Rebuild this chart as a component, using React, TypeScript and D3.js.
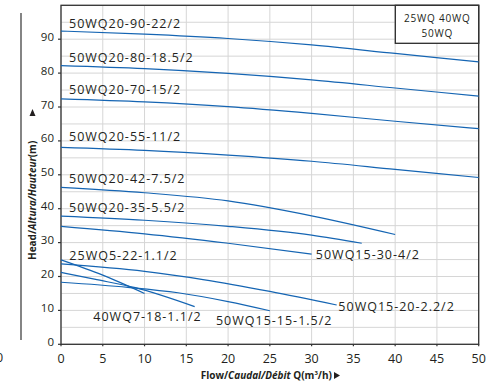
import React from "react";
import * as d3 from "d3";

type Pt = [number, number];

// Pump curves: [flow m3/h, head m]
const c90: Pt[] = [[0, 92.4], [10, 91.5], [20, 90.2], [30, 88.3], [40, 85.8], [50, 83.3]];
const c80: Pt[] = [[0, 82.2], [10, 81.3], [20, 79.9], [30, 78.0], [40, 75.6], [50, 73.2]];
const c70: Pt[] = [[0, 72.4], [10, 71.5], [20, 70.1], [30, 68.1], [40, 65.8], [50, 63.6]];
const c55: Pt[] = [[0, 58.1], [10, 57.2], [20, 55.8], [30, 54.0], [40, 51.6], [50, 49.2]];
const c42: Pt[] = [[0, 46.3], [10, 44.7], [20, 42.3], [30, 37.9], [40, 32.4]];
const c35: Pt[] = [[0, 37.8], [10, 36.6], [20, 34.8], [30, 32.2], [36, 29.8]];
const c30: Pt[] = [[0, 34.8], [10, 32.6], [20, 29.8], [30, 26.6]];
const c20: Pt[] = [[0, 23.7], [10, 21.5], [17, 19.1], [25, 15.6], [33, 11.6]];
const c22: Pt[] = [[0, 24.9], [5, 20.4], [10, 15.0]];
const c18: Pt[] = [[0, 21.2], [4, 19.2], [8.9, 16.7], [16, 11.1]];
const c15: Pt[] = [[0, 18.3], [8, 16.8], [14, 15.2], [20, 12.6], [25, 9.9]];

const curves: Pt[][] = [c90, c80, c70, c55, c42, c35, c30, c20, c22, c18, c15];

// Curve labels: text, anchor [flow, head]
const labelTexts = [
  "50WQ20-90-22/2", "50WQ20-80-18.5/2", "50WQ20-70-15/2", "50WQ20-55-11/2",
  "50WQ20-42-7.5/2", "50WQ20-35-5.5/2", "25WQ5-22-1.1/2", "40WQ7-18-1.1/2",
  "50WQ15-15-1.5/2", "50WQ15-20-2.2/2", "50WQ15-30-4/2",
];
const labelAnchors: Pt[] = [
  [0.96, 93.2], [0.96, 83.2], [0.96, 73.8], [0.96, 60.1],
  [0.96, 47.7], [0.96, 39.1], [1.0, 24.9], [3.87, 6.8],
  [18.55, 5.7], [33.2, 9.9], [30.5, 25.2],
];

const xTicks = [0, 5, 10, 15, 20, 25, 30, 35, 40, 45, 50];
const yTicks = [0, 10, 20, 30, 40, 50, 60, 70, 80, 90];
const xGrid = d3.range(0, 51, 5);
const yGrid = d3.range(0, 101, 5);

const legendLines = ["25WQ 40WQ", "50WQ"];

const W = 502, H = 384;
const FONT = "'Open Sans', 'DejaVu Sans', sans-serif";
const TXT = "#231f20";
const BLUE = "#1565b3";

export default function App() {
  const x = d3.scaleLinear().domain([0, 50]).range([61, 478.7]);
  const y = d3.scaleLinear().domain([0, 100]).range([344.3, 5.3]);
  const line = d3
    .line<Pt>()
    .x((d) => x(d[0]))
    .y((d) => y(d[1]))
    .curve(d3.curveMonotoneX);

  const x0 = x(0), x1 = x(50), yb = y(0), yt = y(100);

  return (
    <svg
      width={W}
      height={H}
      style={{ position: "absolute", left: 0, top: 0, background: "#fff" }}
      fontFamily={FONT}
    >
      <rect width={W} height={H} fill="#fff" />
      {/* grid */}
      {xGrid.map((v) => (
        <line key={"gx" + v} x1={x(v)} x2={x(v)} y1={yt} y2={yb} stroke="#d6d6d6" strokeWidth={1} />
      ))}
      {yGrid.map((v) => (
        <line key={"gy" + v} x1={x0} x2={x1} y1={y(v)} y2={y(v)} stroke="#d6d6d6" strokeWidth={1} />
      ))}
      {/* legend box */}
      <rect x={395.3} y={yt} width={x1 - 395.3} height={38} fill="#fff" stroke="#2b2b2b" strokeWidth={1.3} />
      {legendLines.map((t, i) => (
        <text key={t} x={437.3} y={21.7 + i * 15} textAnchor="middle" fontSize={10} letterSpacing={0.8} fill={TXT}>
          {t}
        </text>
      ))}
      {/* frame */}
      <rect x={x0} y={yt} width={x1 - x0} height={yb - yt} fill="none" stroke="#333" strokeWidth={1.3} />
      {/* curves */}
      {curves.map((c, i) => (
        <path key={"c" + i} d={line(c) || ""} fill="none" stroke={BLUE} strokeWidth={1.2} />
      ))}
      {/* curve labels */}
      {labelTexts.map((t, i) => (
        <text
          key={t}
          x={x(labelAnchors[i][0])}
          y={y(labelAnchors[i][1])}
          fontSize={12.5}
          letterSpacing={1.0}
          fill={TXT}
        >
          {t}
        </text>
      ))}
      {/* y ticks */}
      {yTicks.map((v) => (
        <g key={"yt" + v}>
          <line x1={x0 - 3} x2={x0} y1={y(v)} y2={y(v)} stroke="#333" strokeWidth={1.2} />
          <text x={54} y={y(v) + 1.5} textAnchor="end" fontSize={11.5} fill={TXT}>
            {v}
          </text>
        </g>
      ))}
      {/* x ticks */}
      {xTicks.map((v) => (
        <g key={"xt" + v}>
          <line x1={x(v)} x2={x(v)} y1={yb} y2={yb + 2} stroke="#333" strokeWidth={1.2} />
          <text x={x(v)} y={363.3} textAnchor="middle" fontSize={12.5} fill={TXT}>
            {v}
          </text>
        </g>
      ))}
      {/* stray left elements */}
      <text x={-0.5} y={362} textAnchor="middle" fontSize={12.5} fill={TXT}>0</text>
      <line x1={21} x2={21} y1={13} y2={340} stroke="#333" strokeWidth={1.2} />
      {/* y title */}
      <g transform="translate(36,260) rotate(-90)">
        <text x={0} y={0} fontSize={10} fontWeight="bold" fill={TXT}>
          <tspan>Head/</tspan>
          <tspan fontStyle="italic">Altura/Hauteur</tspan>
          <tspan>(m)</tspan>
        </text>
        <path d="M144,-0.5 L151,-3.5 L144,-6.5 Z" fill={TXT} />
      </g>
      {/* x title */}
      <text x={200.7} y={379.3} fontSize={10} fontWeight="bold" fill={TXT}>
        <tspan>Flow/</tspan>
        <tspan fontStyle="italic">Caudal/Débit</tspan>
        <tspan> Q(m</tspan>
        <tspan fontSize={6} dy={-4}>3</tspan>
        <tspan dy={4}>/h)</tspan>
      </text>
      <path d="M334,372 L340,375.5 L334,379 Z" fill={TXT} />
    </svg>
  );
}
